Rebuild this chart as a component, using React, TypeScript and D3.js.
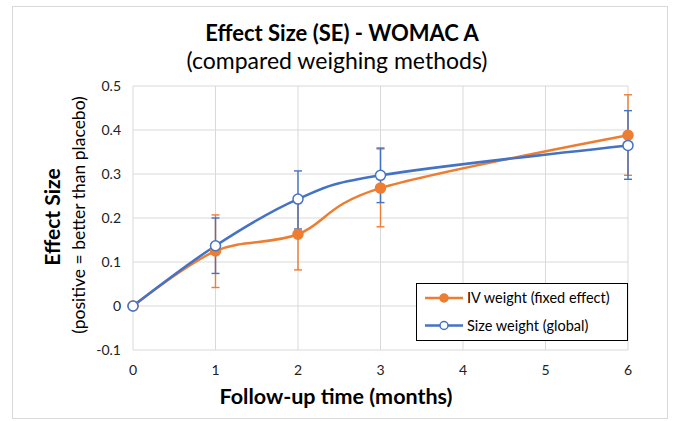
import * as d3 from "d3";
import React from "react";

// follow-up months
const months = [0, 1, 2, 3, 6];

// IV weight (fixed effect)
const ivValues = [0, 0.125, 0.163, 0.268, 0.388];
const ivLow = [0, 0.042, 0.082, 0.18, 0.297];
const ivHigh = [0, 0.207, 0.245, 0.357, 0.48];

// Size weight (global)
const sizeValues = [0, 0.137, 0.243, 0.297, 0.365];
const sizeLow = [0, 0.074, 0.175, 0.235, 0.288];
const sizeHigh = [0, 0.2, 0.307, 0.359, 0.444];

const xTicks = [0, 1, 2, 3, 4, 5, 6];
const yTicks = [-0.1, 0, 0.1, 0.2, 0.3, 0.4, 0.5];

const ORANGE = "#ED7D31";
const BLUE = "#4472C4";
const FONT = "Lato, 'Open Sans', sans-serif";

export default function App() {
  const width = 673;
  const height = 421;
  const margin = { top: 86, right: 45, bottom: 71, left: 133 };

  const x = d3.scaleLinear().domain([0, 6]).range([margin.left, width - margin.right]);
  const y = d3.scaleLinear().domain([-0.1, 0.5]).range([height - margin.bottom, margin.top]);

  const line = d3
    .line<number[]>()
    .x(d => x(d[0]))
    .y(d => y(d[1]))
    .curve(d3.curveCardinal.tension(0));

  const series = [
    { name: "IV weight (fixed effect)", values: ivValues, low: ivLow, high: ivHigh, color: ORANGE, fill: ORANGE },
    { name: "Size weight (global)", values: sizeValues, low: sizeLow, high: sizeHigh, color: BLUE, fill: "#fff" },
  ];

  // excel style labels, plain hyphen for negatives
  const fmtY = (t: number) => String(+t.toFixed(1));

  return (
    <svg width={width} height={height} style={{ position: "absolute", left: 0, top: 0, fontFamily: FONT }}>
      <rect x={0} y={0} width={width} height={height} fill="#fff" />
      <rect x={12.5} y={6.5} width={655} height={412} fill="#fff" stroke="#d9d9d9" />

      <text x={342} y={41} textAnchor="middle" fontSize={22} fontWeight="bold" fill="#000">
        Effect Size (SE) - WOMAC A
      </text>
      <text x={337} y={69} textAnchor="middle" fontSize={23} fill="#000">
        (compared weighing methods)
      </text>

      {/* grid */}
      {yTicks.map(t => (
        <line key={"gy" + t} x1={x(0)} x2={x(6)} y1={y(t)} y2={y(t)} stroke="#d9d9d9" />
      ))}
      {xTicks.map(t => (
        <line key={"gx" + t} x1={x(t)} x2={x(t)} y1={y(-0.1)} y2={y(0.5)} stroke="#d9d9d9" />
      ))}

      {/* tick labels */}
      {yTicks.map(t => (
        <text key={"ty" + t} x={121} y={y(t)} dy="0.35em" textAnchor="end" fontSize={14} fill="#222">
          {fmtY(t)}
        </text>
      ))}
      {xTicks.map(t => (
        <text key={"tx" + t} x={x(t)} y={375} textAnchor="middle" fontSize={14} fill="#222">
          {t}
        </text>
      ))}

      {/* axis titles */}
      <text x={336} y={404} textAnchor="middle" fontSize={21.5} fontWeight="bold" fill="#000">
        Follow-up time (months)
      </text>
      <text transform={`translate(60, 217) rotate(-90)`} textAnchor="middle" fontSize={21} fontWeight="bold" fill="#000">
        Effect Size
      </text>
      <text transform={`translate(85, 215) rotate(-90)`} textAnchor="middle" fontSize={17.5} fill="#000">
        (positive = better than placebo)
      </text>

      {/* series */}
      {series.map(s => (
        <g key={s.name}>
          {months.map((m, i) =>
            s.high[i] === s.low[i] ? null : (
              <g key={i} stroke={s.color} strokeWidth={1.4}>
                <line x1={x(m)} x2={x(m)} y1={y(s.low[i])} y2={y(s.high[i])} />
                <line x1={x(m) - 4} x2={x(m) + 4} y1={y(s.low[i])} y2={y(s.low[i])} />
                <line x1={x(m) - 4} x2={x(m) + 4} y1={y(s.high[i])} y2={y(s.high[i])} />
              </g>
            )
          )}
          <path d={line(months.map((m, i) => [m, s.values[i]])) || ""} fill="none" stroke={s.color} strokeWidth={2.5} />
        </g>
      ))}
      {series.map(s => (
        <g key={s.name + "m"}>
          {months.map((m, i) => (
            <circle key={i} cx={x(m)} cy={y(s.values[i])} r={5} fill={s.fill} stroke={s.color} strokeWidth={1.5} />
          ))}
        </g>
      ))}

      {/* legend */}
      <g>
        <rect x={416.5} y={283.5} width={211} height={57} fill="#fff" stroke="#000" />
        {series.map((s, i) => (
          <g key={s.name} transform={`translate(0, ${298 + i * 27.5})`}>
            <line x1={425} x2={463} y1={0} y2={0} stroke={s.color} strokeWidth={2.5} />
            <circle cx={444} cy={0} r={4} fill={s.fill} stroke={s.color} strokeWidth={1.5} />
            <text x={467} y={0} dy="0.35em" fontSize={14.5} fill="#000">
              {s.name}
            </text>
          </g>
        ))}
      </g>
    </svg>
  );
}
